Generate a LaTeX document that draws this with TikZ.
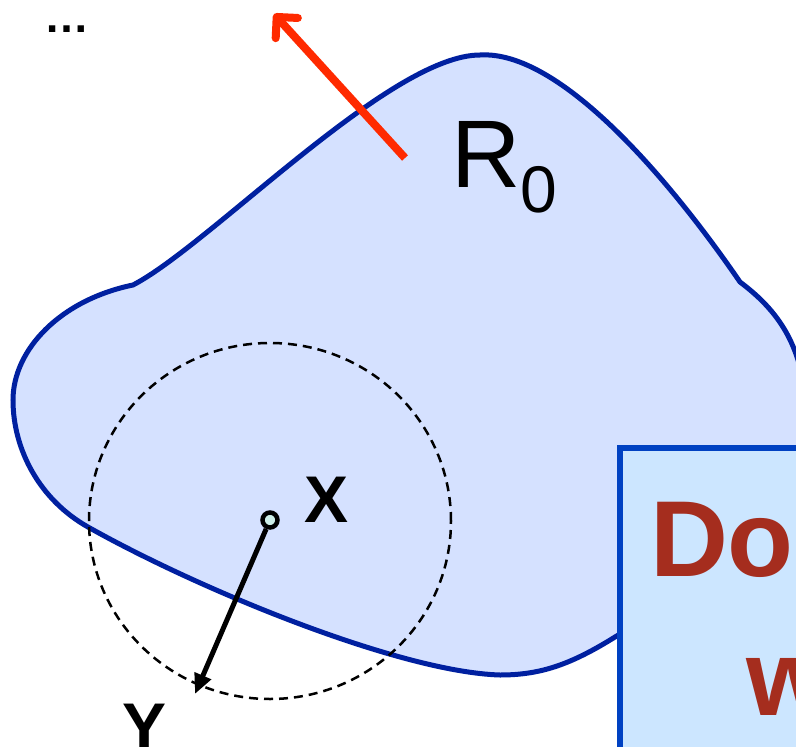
\documentclass[tikz,border=0pt]{standalone}
\usepackage{fontspec}
\setmainfont{Liberation Sans}
\usetikzlibrary{arrows.meta}
\definecolor{blobfill}{RGB}{213,225,255}
\definecolor{blobline}{RGB}{0,32,160}
\definecolor{boxfill}{RGB}{204,230,255}
\definecolor{boxline}{RGB}{0,65,194}
\definecolor{boxtext}{RGB}{165,45,30}
\definecolor{redarr}{RGB}{255,42,0}
\definecolor{ptfill}{RGB}{205,238,232}
\tikzset{
  blob/.style={fill=blobfill, draw=blobline, line width=5pt},
  radiuscircle/.style={draw=black, line width=2.5pt, dash pattern=on 9pt off 6pt},
  redarrow/.style={draw=redarr, line width=8pt, -{Straight Barb[length=15pt,width=30pt,line cap=round,line join=round]}},
  blackarrow/.style={draw=black, line width=5pt, -{Triangle[length=20pt,width=17pt]}},
  ptnode/.style={circle, draw=black, line width=4.5pt, fill=ptfill, minimum size=15pt, inner sep=0pt},
  lbl/.style={inner sep=0pt, outer sep=0pt, text=black},
  boxstyle/.style={fill=boxfill, draw=boxline, line width=6.5pt},
}
\begin{document}
\begin{tikzpicture}[x=1pt, y=-1pt]
\useasboundingbox (0,0) rectangle (796,747);
\fill[white] (0,0) rectangle (796,747);
\clip (0,0) rectangle (796,747);
% region R0
\path[blob] (133,285) .. controls (210,245) and (390,55) .. (480,55)
  .. controls (560,50) and (670,180) .. (740,282)
  .. controls (780,312) and (800,345) .. (806,400)
  .. controls (806,440) and (790,480) .. (770,520)
  .. controls (720,580) and (660,610) .. (615,637)
  .. controls (570,665) and (540,675) .. (500,675)
  .. controls (400,672) and (200,590) .. (88,527)
  .. controls (40,500) and (13,450) .. (13,400)
  .. controls (13,350) and (60,300) .. (133,285) -- cycle;
% dashed circle
\draw[radiuscircle] (270,521) ellipse [x radius=181pt, y radius=178pt];
% red arrow
\coordinate (rtail) at (405,158);
\coordinate (rtip) at (274,14);
\draw[redarrow] (rtail) -- (rtip);
% points X and Y
\node[ptnode] (xpt) at (270,520) {};
\coordinate (ypt) at (195,694);
\draw[blackarrow] (xpt) -- (ypt);
\node[lbl, anchor=base, font=\fontsize{66}{66}\selectfont\bfseries] (xlab) at (327,522) {X};
\node[lbl, anchor=base, font=\fontsize{66}{66}\selectfont\bfseries] (ylab) at (145,749) {Y};
\node[lbl, anchor=base west] (rlab) at (451,187) {\fontsize{96}{96}\selectfont R\raisebox{-25pt}{\fontsize{66}{66}\selectfont 0}};
\node[lbl, anchor=base west, font=\fontsize{45}{45}\selectfont\bfseries] (dots) at (44,32) {…};
% box
\path[boxstyle] (620,448) rectangle (840,800);
\node[lbl, anchor=base west, text=boxtext, font=\fontsize{108}{108}\selectfont\bfseries] (line1) at (650,576) {Do};
\node[lbl, anchor=base west, text=boxtext, font=\fontsize{108}{108}\selectfont\bfseries] (line2) at (746,715) {w};
\end{tikzpicture}
\end{document}
